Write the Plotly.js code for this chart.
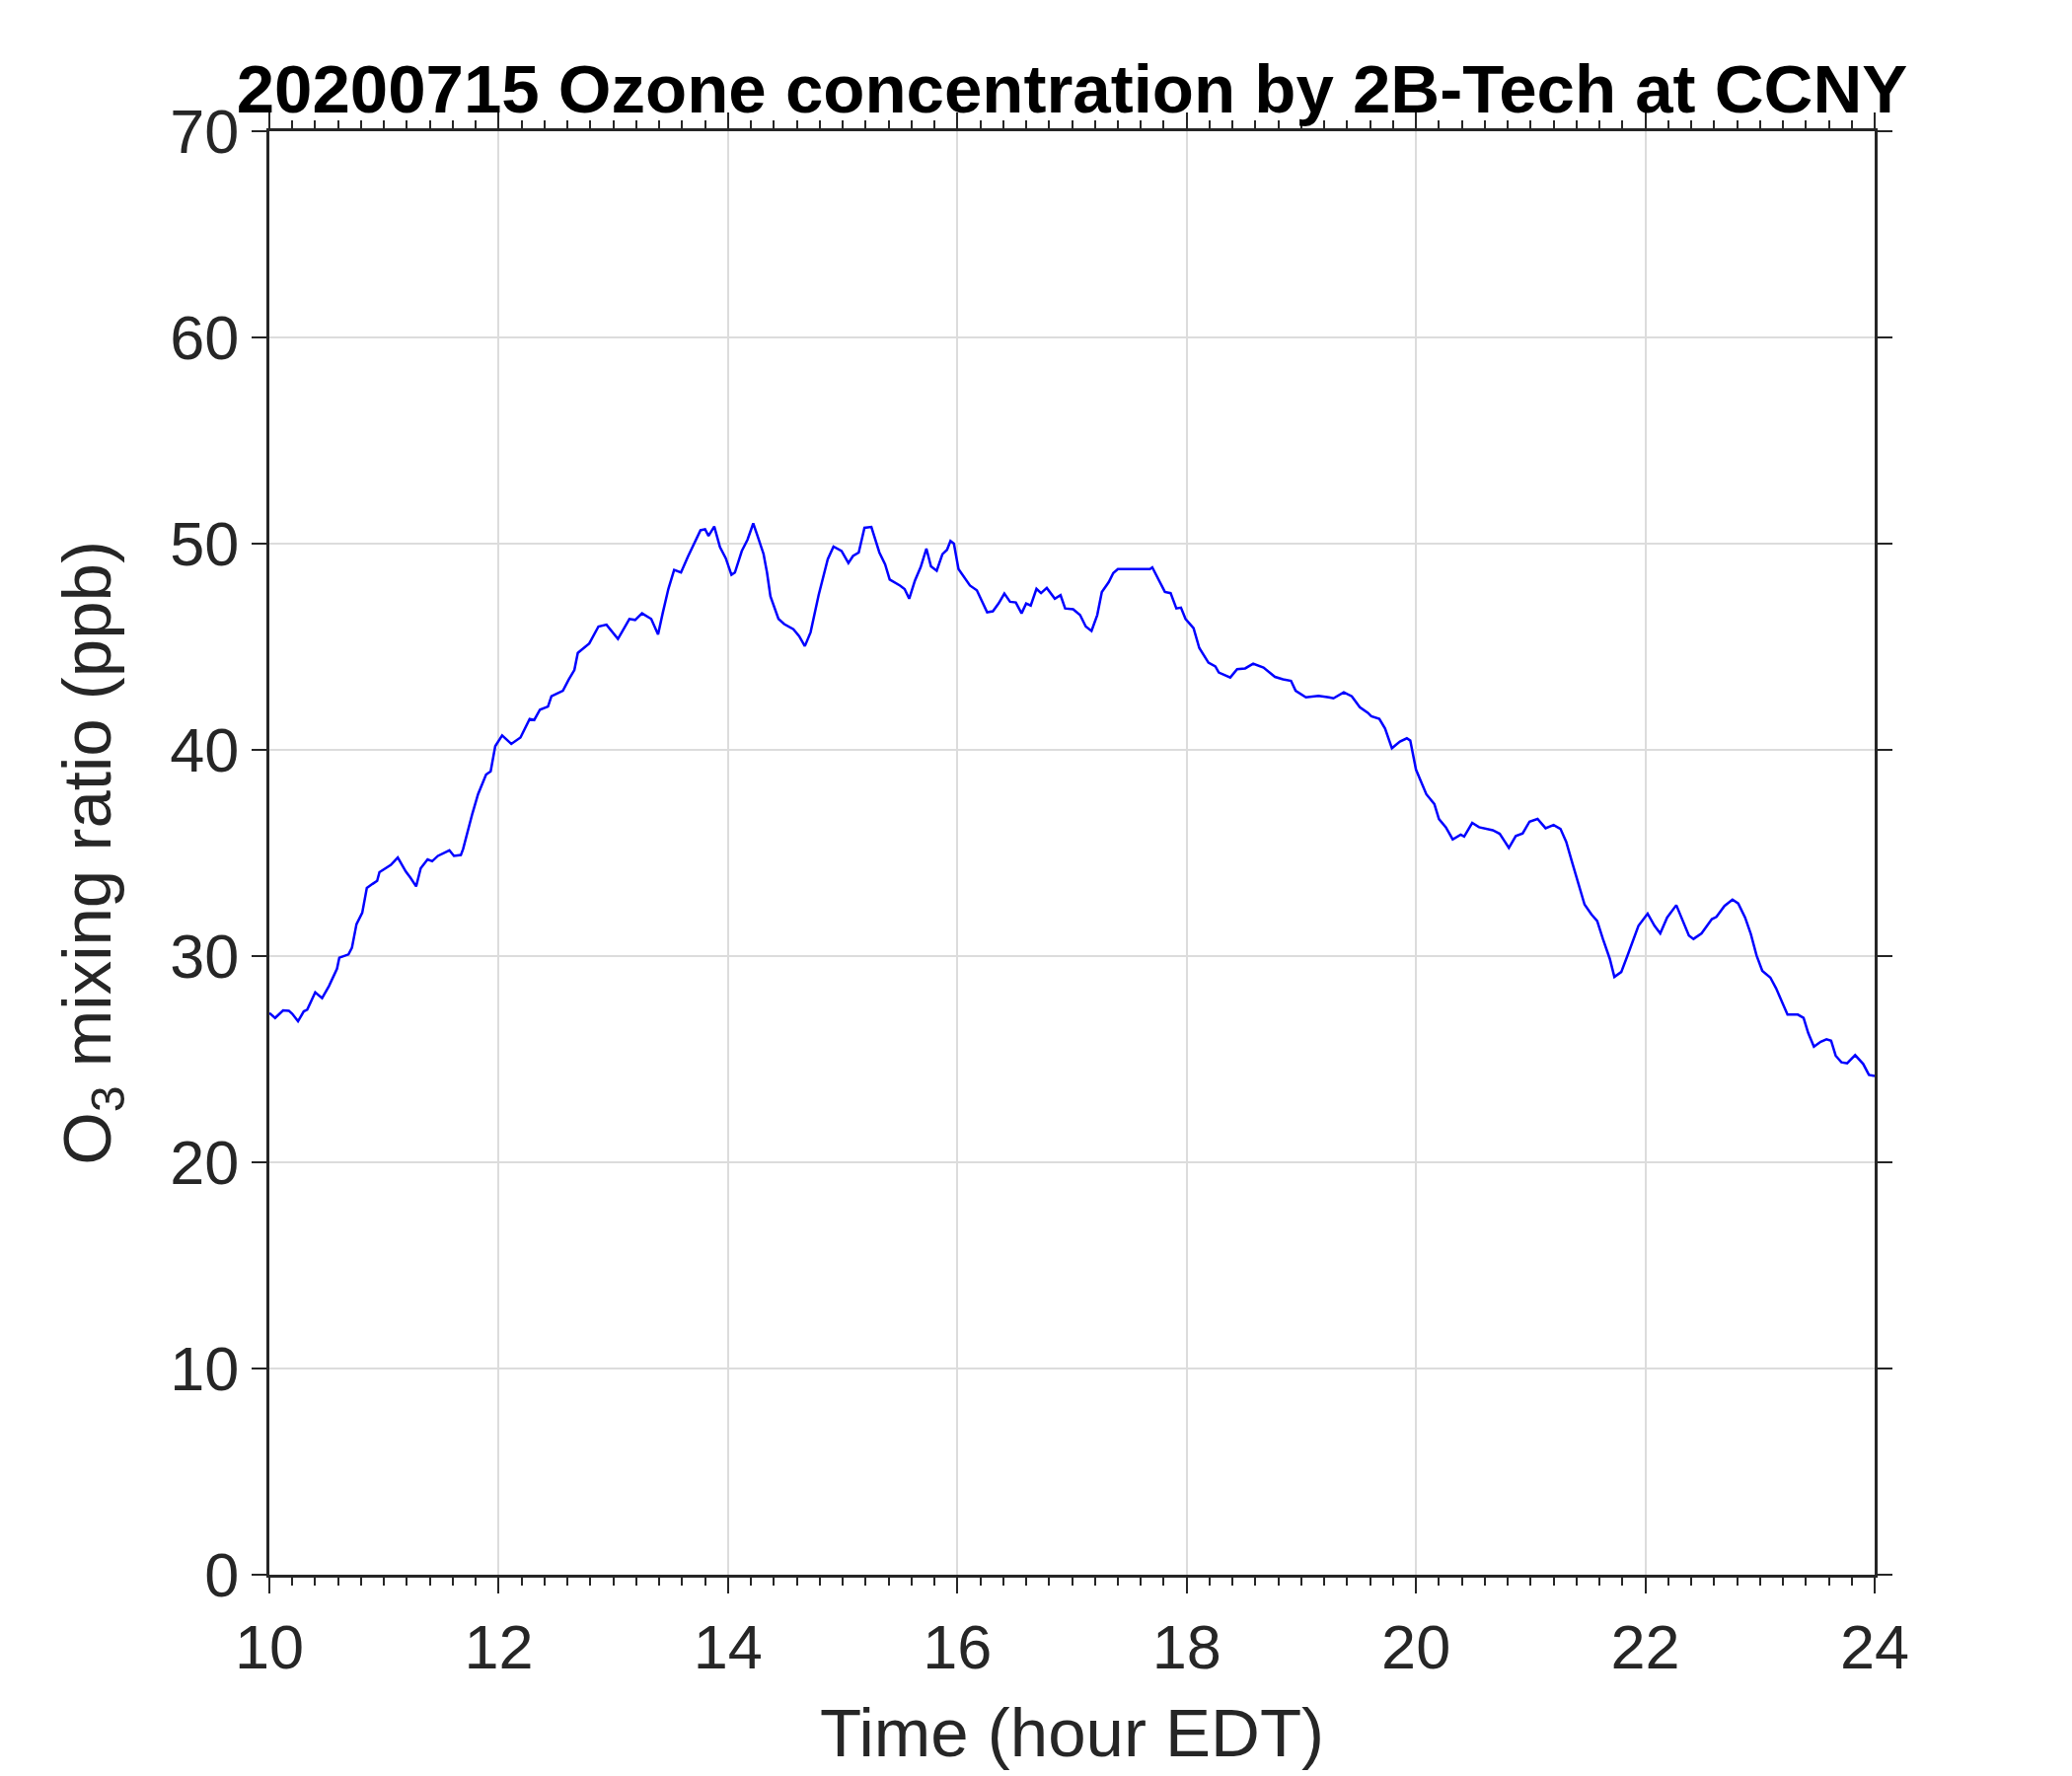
<!DOCTYPE html>
<html>
<head>
<meta charset="utf-8">
<script src="https://cdn.plot.ly/plotly-3.0.1.min.js"></script>
<style>
  html, body { margin: 0; padding: 0; background: #ffffff; }
  #chart { width: 2100px; height: 1800px; }
</style>
</head>
<body>
<div id="chart"></div>
<script>
// Time in hours (EDT)
const timeHours = [
  10.00, 10.05, 10.12, 10.17, 10.20, 10.25, 10.30, 10.33, 10.40, 10.46,
  10.52, 10.59, 10.61, 10.69, 10.72, 10.76, 10.81, 10.85, 10.90, 10.94,
  10.96, 11.06, 11.12, 11.19, 11.23, 11.28, 11.32, 11.38, 11.42, 11.47,
  11.57, 11.61, 11.67, 11.69, 11.77, 11.82, 11.89, 11.93, 11.97, 12.03,
  12.11, 12.19, 12.27, 12.31, 12.36, 12.43, 12.46, 12.56, 12.61, 12.66,
  12.69, 12.73, 12.79, 12.87, 12.94, 13.04, 13.14, 13.19, 13.25, 13.33,
  13.39, 13.43, 13.48, 13.53, 13.59, 13.65, 13.70, 13.76, 13.80, 13.83,
  13.88, 13.93, 13.98, 14.03, 14.06, 14.12, 14.17, 14.22, 14.25, 14.31,
  14.34, 14.37, 14.44, 14.49, 14.57, 14.62, 14.67, 14.72, 14.79, 14.87,
  14.92, 14.99, 15.05, 15.09, 15.14, 15.19, 15.25, 15.32, 15.37, 15.41,
  15.50, 15.54, 15.58, 15.63, 15.68, 15.73, 15.77, 15.82, 15.87, 15.91,
  15.94, 15.97, 16.01, 16.06, 16.11, 16.17, 16.26, 16.31, 16.36, 16.41,
  16.46, 16.51, 16.56, 16.60, 16.64, 16.69, 16.73, 16.78, 16.85, 16.90,
  16.94, 17.01, 17.07, 17.12, 17.17, 17.22, 17.26, 17.32, 17.36, 17.40,
  17.68, 17.70, 17.75, 17.81, 17.86, 17.91, 17.95, 17.99, 18.06, 18.11,
  18.19, 18.25, 18.28, 18.38, 18.44, 18.51, 18.58, 18.67, 18.77, 18.84,
  18.91, 18.95, 19.04, 19.15, 19.24, 19.28, 19.37, 19.44, 19.51, 19.58,
  19.61, 19.68, 19.73, 19.79, 19.86, 19.92, 19.95, 20.00, 20.09, 20.16,
  20.20, 20.26, 20.32, 20.39, 20.42, 20.49, 20.55, 20.61, 20.67, 20.73,
  20.81, 20.87, 20.93, 20.99, 21.06, 21.13, 21.20, 21.26, 21.31, 21.36,
  21.41, 21.47, 21.53, 21.58, 21.63, 21.69, 21.73, 21.79, 21.85, 21.94,
  22.02, 22.08, 22.13, 22.19, 22.27, 22.32, 22.38, 22.42, 22.49, 22.58,
  22.62, 22.69, 22.76, 22.81, 22.87, 22.92, 22.97, 23.02, 23.09, 23.14,
  23.19, 23.24, 23.33, 23.38, 23.42, 23.47, 23.53, 23.58, 23.62, 23.66,
  23.71, 23.76, 23.83, 23.90, 23.95, 24.00
];

// Ozone mixing ratio (ppb)
const ozonePpb = [
  27.24, 27.00, 27.37, 27.35, 27.20, 26.84, 27.32, 27.40, 28.24, 27.96,
  28.55, 29.39, 29.92, 30.08, 30.40, 31.55, 32.10, 33.30, 33.50, 33.65,
  34.07, 34.42, 34.78, 34.10, 33.80, 33.38, 34.26, 34.69, 34.60, 34.86,
  35.13, 34.86, 34.90, 35.20, 36.90, 37.85, 38.80, 38.96, 40.18, 40.70,
  40.29, 40.60, 41.50, 41.45, 41.95, 42.10, 42.60, 42.87, 43.40, 43.87,
  44.70, 44.90, 45.16, 45.98, 46.07, 45.38, 46.35, 46.30, 46.62, 46.35,
  45.60, 46.62, 47.81, 48.73, 48.60, 49.37, 49.92, 50.65, 50.70, 50.38,
  50.83, 49.83, 49.30, 48.49, 48.60, 49.64, 50.19, 50.98, 50.50, 49.50,
  48.60, 47.44, 46.35, 46.10, 45.85, 45.52, 45.03, 45.70, 47.50, 49.25,
  49.86, 49.65, 49.06, 49.40, 49.57, 50.77, 50.81, 49.57, 49.00, 48.26,
  47.97, 47.80, 47.33, 48.21, 48.86, 49.76, 48.90, 48.69, 49.49, 49.70,
  50.13, 50.00, 48.77, 48.37, 47.97, 47.74, 46.67, 46.72, 47.10, 47.58,
  47.18, 47.15, 46.62, 47.10, 47.00, 47.81, 47.60, 47.85, 47.33, 47.50,
  46.86, 46.82, 46.54, 45.98, 45.77, 46.54, 47.66, 48.13, 48.58, 48.77,
  48.77, 48.85, 48.29, 47.66, 47.60, 46.86, 46.90, 46.35, 45.90, 44.94,
  44.23, 44.05, 43.75, 43.51, 43.91, 43.95, 44.18, 43.99, 43.54, 43.42,
  43.35, 42.87, 42.55, 42.62, 42.55, 42.50, 42.79, 42.60, 42.07, 41.80,
  41.63, 41.50, 41.04, 40.08, 40.40, 40.56, 40.45, 39.04, 37.85, 37.37,
  36.65, 36.25, 35.66, 35.89, 35.80, 36.46, 36.25, 36.17, 36.10, 35.93,
  35.25, 35.82, 35.95, 36.52, 36.65, 36.20, 36.36, 36.17, 35.54, 34.58,
  33.62, 32.50, 32.02, 31.70, 30.83, 29.87, 28.99, 29.23, 30.11, 31.47,
  32.06, 31.47, 31.10, 31.87, 32.47, 31.79, 30.99, 30.83, 31.10, 31.79,
  31.90, 32.43, 32.74, 32.55, 31.87, 31.07, 30.03, 29.28, 28.96, 28.44,
  27.80, 27.16, 27.16, 27.00, 26.28, 25.61, 25.85, 25.97, 25.90, 25.17,
  24.85, 24.80, 25.20, 24.77, 24.24, 24.18
];

const xTickVals = [10, 12, 14, 16, 18, 20, 22, 24];
const yTickVals = [0, 10, 20, 30, 40, 50, 60, 70];

const FONT = 'Liberation Sans, Arial, Helvetica, sans-serif';
const AXIS_COLOR = '#262626';

const trace = {
  x: timeHours,
  y: ozonePpb,
  type: 'scatter',
  mode: 'lines',
  line: { color: '#0000ff', width: 2.5 },
  hoverinfo: 'skip'
};

const layout = {
  width: 2100,
  height: 1800,
  paper_bgcolor: '#ffffff',
  plot_bgcolor: '#ffffff',
  showlegend: false,
  margin: { l: 273, r: 200, t: 133, b: 204, pad: 0 },
  font: { family: FONT, color: AXIS_COLOR, size: 63 },
  title: {
    text: '<b>20200715 Ozone concentration by 2B-Tech at CCNY</b>',
    font: { family: FONT, size: 69, color: '#000000' },
    x: 0.5, xref: 'paper', xanchor: 'center',
    y: 1 - 114 / 1800, yref: 'container', yanchor: 'bottom'
  },
  xaxis: {
    range: [10, 24],
    tickvals: xTickVals,
    ticktext: xTickVals.map(String),
    ticks: 'outside', ticklen: 16, tickwidth: 2, tickcolor: AXIS_COLOR,
    showline: true, linewidth: 3, linecolor: AXIS_COLOR, mirror: 'allticks',
    showgrid: true, gridcolor: '#dcdcdc', gridwidth: 2,
    zeroline: false,
    tickfont: { family: FONT, size: 63, color: AXIS_COLOR },
    minor: { dtick: 0.2, tick0: 10, ticks: 'outside', ticklen: 8, tickwidth: 2, tickcolor: AXIS_COLOR, showgrid: false },
    title: { text: 'Time (hour EDT)', font: { family: FONT, size: 69, color: AXIS_COLOR }, standoff: 30 }
  },
  yaxis: {
    range: [0, 70],
    tickvals: yTickVals,
    ticktext: yTickVals.map(String),
    ticks: 'outside', ticklen: 15, tickwidth: 2, tickcolor: AXIS_COLOR,
    showline: true, linewidth: 3, linecolor: AXIS_COLOR, mirror: 'allticks',
    showgrid: true, gridcolor: '#dcdcdc', gridwidth: 2,
    zeroline: false,
    tickfont: { family: FONT, size: 63, color: AXIS_COLOR },
    title: { text: 'O<sub>3</sub> mixing ratio (ppb)', font: { family: FONT, size: 69, color: AXIS_COLOR }, standoff: 38 }
  }
};

Plotly.newPlot('chart', [trace], layout, { staticPlot: true, displayModeBar: false });
</script>
</body>
</html>
